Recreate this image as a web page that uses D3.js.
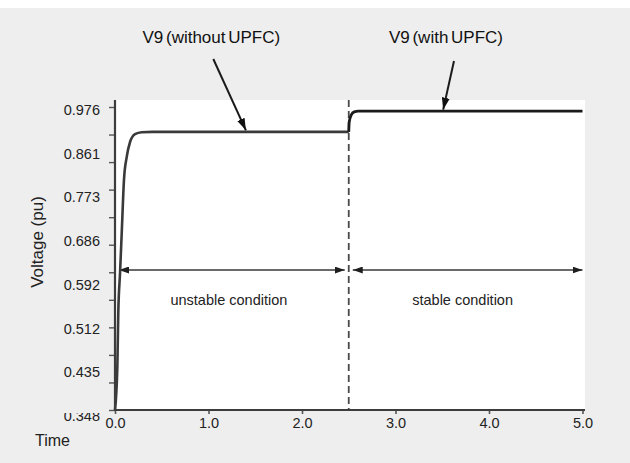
<!DOCTYPE html>
<html>
<head>
<meta charset="utf-8">
<script src="https://cdn.jsdelivr.net/npm/d3@7"></script>
<style>
  html, body { margin: 0; padding: 0; background: #ffffff; }
  svg { display: block; font-family: "Liberation Sans", Arial, sans-serif; }
</style>
</head>
<body>
<svg id="chart" width="630" height="463"></svg>
<script>
// Bus 9 voltage response, with and without the UPFC
const yTickValues = [0.976, 0.861, 0.773, 0.686, 0.592, 0.512, 0.435, 0.348];
const yTickLabels = ["0.976", "0.861", "0.773", "0.686", "0.592", "0.512", "0.435", "0.348"];
const xTickValues = [0, 1, 2, 3, 4, 5];

// without UPFC: 0 s to 2.5 s
const timeWithout = [0, 0.025, 0.035, 0.054, 0.072, 0.096, 0.125, 0.161, 0.214, 0.286, 0.4, 2.5];
const voltWithout = [0.348, 0.434, 0.531, 0.608, 0.694, 0.801, 0.847, 0.883, 0.904, 0.909, 0.910, 0.910];

// with UPFC: 2.5 s to 5 s
const timeWith = [2.5, 2.505, 2.527, 2.559, 2.602, 5.0];
const voltWith = [0.910, 0.936, 0.955, 0.963, 0.965, 0.965];

const switchTime = 2.5;
const regionSpans = [[0, 2.5], [2.5, 5.0]];
const regionLabels = ["unstable condition", "stable condition"];
const regionLevel = 0.614;

const callouts = [
  { text: "V9 (without UPFC)", labelT: 1.03, tipT: 1.40, tipV: 0.910, dx: 2, dy: 16 },
  { text: "V9 (with UPFC)",    labelT: 3.54, tipT: 3.51, tipV: 0.965, dx: 8, dy: 18 }
];

const svg = d3.select("#chart");
const W = 630, H = 463;
const plot = { left: 115, right: 582.5, top: 100, bottom: 410, yTop: 107 };

const x = d3.scaleLinear().domain([0, 5]).range([plot.left, plot.right]);
// tick labels are evenly spaced along the axis
const yPos = yTickValues.map((d, i) => plot.yTop + i * (plot.bottom - plot.yTop) / (yTickValues.length - 1));
const y = d3.scaleLinear().domain(yTickValues).range(yPos);

// backgrounds
svg.append("rect").attr("x", 0).attr("y", 8).attr("width", W).attr("height", H - 8).attr("fill", "#eeeeee");
svg.append("rect").attr("x", plot.left).attr("y", plot.top)
  .attr("width", 585 - plot.left).attr("height", plot.bottom - plot.top).attr("fill", "#ffffff");

const defs = svg.append("defs");
function marker(id, color, len, wid) {
  defs.append("marker").attr("id", id)
    .attr("markerUnits", "userSpaceOnUse")
    .attr("viewBox", `0 0 ${len} ${wid}`)
    .attr("refX", len).attr("refY", wid / 2)
    .attr("markerWidth", len).attr("markerHeight", wid)
    .attr("orient", "auto-start-reverse")
    .append("path").attr("d", `M0,0L${len},${wid / 2}L0,${wid}Z`).attr("fill", color);
}
marker("headSpan", "#1e1e1e", 10, 7);
marker("headCall", "#111111", 12, 8);

// region arrows
const spanY = y(regionLevel);
svg.append("g").selectAll("line").data(regionSpans).join("line")
  .attr("x1", d => x(d[0]) + 4)
  .attr("x2", d => x(d[1]) - (d[1] === 5 ? 0 : 4))
  .attr("y1", spanY).attr("y2", spanY)
  .attr("stroke", "#6a6a6a").attr("stroke-width", 1.8)
  .attr("marker-start", "url(#headSpan)").attr("marker-end", "url(#headSpan)");

svg.append("g").selectAll("text").data(regionSpans).join("text")
  .attr("x", d => x((d[0] + d[1]) / 2) - 3)
  .attr("y", spanY + 35)
  .attr("text-anchor", "middle")
  .attr("font-size", 14.5).attr("fill", "#222")
  .text((d, i) => regionLabels[i]);

// switching instant
svg.append("line")
  .attr("x1", x(switchTime)).attr("x2", x(switchTime))
  .attr("y1", plot.top).attr("y2", plot.bottom)
  .attr("stroke", "#4a4a4a").attr("stroke-width", 1.8)
  .attr("stroke-dasharray", "7,4");

// voltage curves
const line = d3.line().x(d => x(d[0])).y(d => y(d[1])).curve(d3.curveMonotoneX);
const seriesWithout = timeWithout.map((t, i) => [t, voltWithout[i]]);
const seriesWith = timeWith.map((t, i) => [t, voltWith[i]]);
svg.append("path").datum(seriesWithout).attr("d", line)
  .attr("fill", "none").attr("stroke", "#3a3a3a").attr("stroke-width", 2.6);
svg.append("path").datum(seriesWith).attr("d", line)
  .attr("fill", "none").attr("stroke", "#1a1a1a").attr("stroke-width", 2.8);

// y axis: tick marks
const yMarks = d3.scaleLinear().domain([0, 11]).range([plot.bottom, plot.yTop]);
const yMarkAxis = svg.append("g").attr("transform", `translate(${plot.left},0)`)
  .call(d3.axisLeft(yMarks).tickValues(d3.range(12)).tickSize(6).tickFormat(""));
yMarkAxis.select(".domain").remove();
yMarkAxis.selectAll(".tick line").attr("stroke", "#555").attr("stroke-width", 1.4);

// y axis: labels (the lowest one is partly hidden under the x axis band)
defs.append("clipPath").attr("id", "lowClip").append("rect")
  .attr("x", -120).attr("y", 2.5).attr("width", 120).attr("height", 50);
const yLabelAxis = svg.append("g").attr("transform", `translate(${plot.left},0)`)
  .call(d3.axisLeft(y).tickValues(yTickValues).tickSize(0).tickPadding(15)
    .tickFormat((d, i) => yTickLabels[i]));
yLabelAxis.select(".domain").remove();
yLabelAxis.selectAll(".tick text")
  .attr("font-family", "Liberation Sans, Arial, sans-serif")
  .attr("font-size", 14.5).attr("fill", "#222")
  .attr("dy", (d, i) => (7.5 + i * 0.45) + "px");
yLabelAxis.selectAll(".tick").filter(d => d === 0.348).select("text")
  .attr("clip-path", "url(#lowClip)");

// axis lines
svg.append("line").attr("x1", plot.left).attr("x2", plot.left)
  .attr("y1", plot.top).attr("y2", plot.bottom + 1)
  .attr("stroke", "#3c3c3c").attr("stroke-width", 2.2);

// x axis
const xAxis = svg.append("g").attr("transform", `translate(0,${plot.bottom})`)
  .call(d3.axisBottom(x).tickValues(xTickValues).tickSize(4).tickPadding(4).tickFormat(d3.format(".1f")));
xAxis.select(".domain").remove();
xAxis.selectAll(".tick line").attr("stroke", "#555").attr("stroke-width", 1.6);
xAxis.selectAll(".tick text").attr("font-family", "Liberation Sans, Arial, sans-serif")
  .attr("font-size", 14.5).attr("fill", "#222");
svg.append("line").attr("x1", plot.left - 1).attr("x2", 585)
  .attr("y1", plot.bottom).attr("y2", plot.bottom)
  .attr("stroke", "#3c3c3c").attr("stroke-width", 2.2);

// axis titles
svg.append("text").attr("x", 35).attr("y", 446)
  .attr("font-size", 16).attr("fill", "#222").text("Time");
svg.append("text")
  .attr("transform", `translate(43,${242}) rotate(-90)`)
  .attr("text-anchor", "middle")
  .attr("font-size", 17).attr("fill", "#222").text("Voltage (pu)");

// callouts
const cg = svg.append("g");
callouts.forEach(c => {
  const lx = x(c.labelT);
  cg.append("text").attr("x", lx).attr("y", 43)
    .attr("text-anchor", "middle").attr("font-size", 17)
    .attr("word-spacing", "-2px").attr("fill", "#111").text(c.text);
  cg.append("line")
    .attr("x1", lx + c.dx).attr("y1", 43 + c.dy)
    .attr("x2", x(c.tipT)).attr("y2", y(c.tipV) - 1.5)
    .attr("stroke", "#1a1a1a").attr("stroke-width", 2)
    .attr("marker-end", "url(#headCall)");
});
</script>
</body>
</html>
